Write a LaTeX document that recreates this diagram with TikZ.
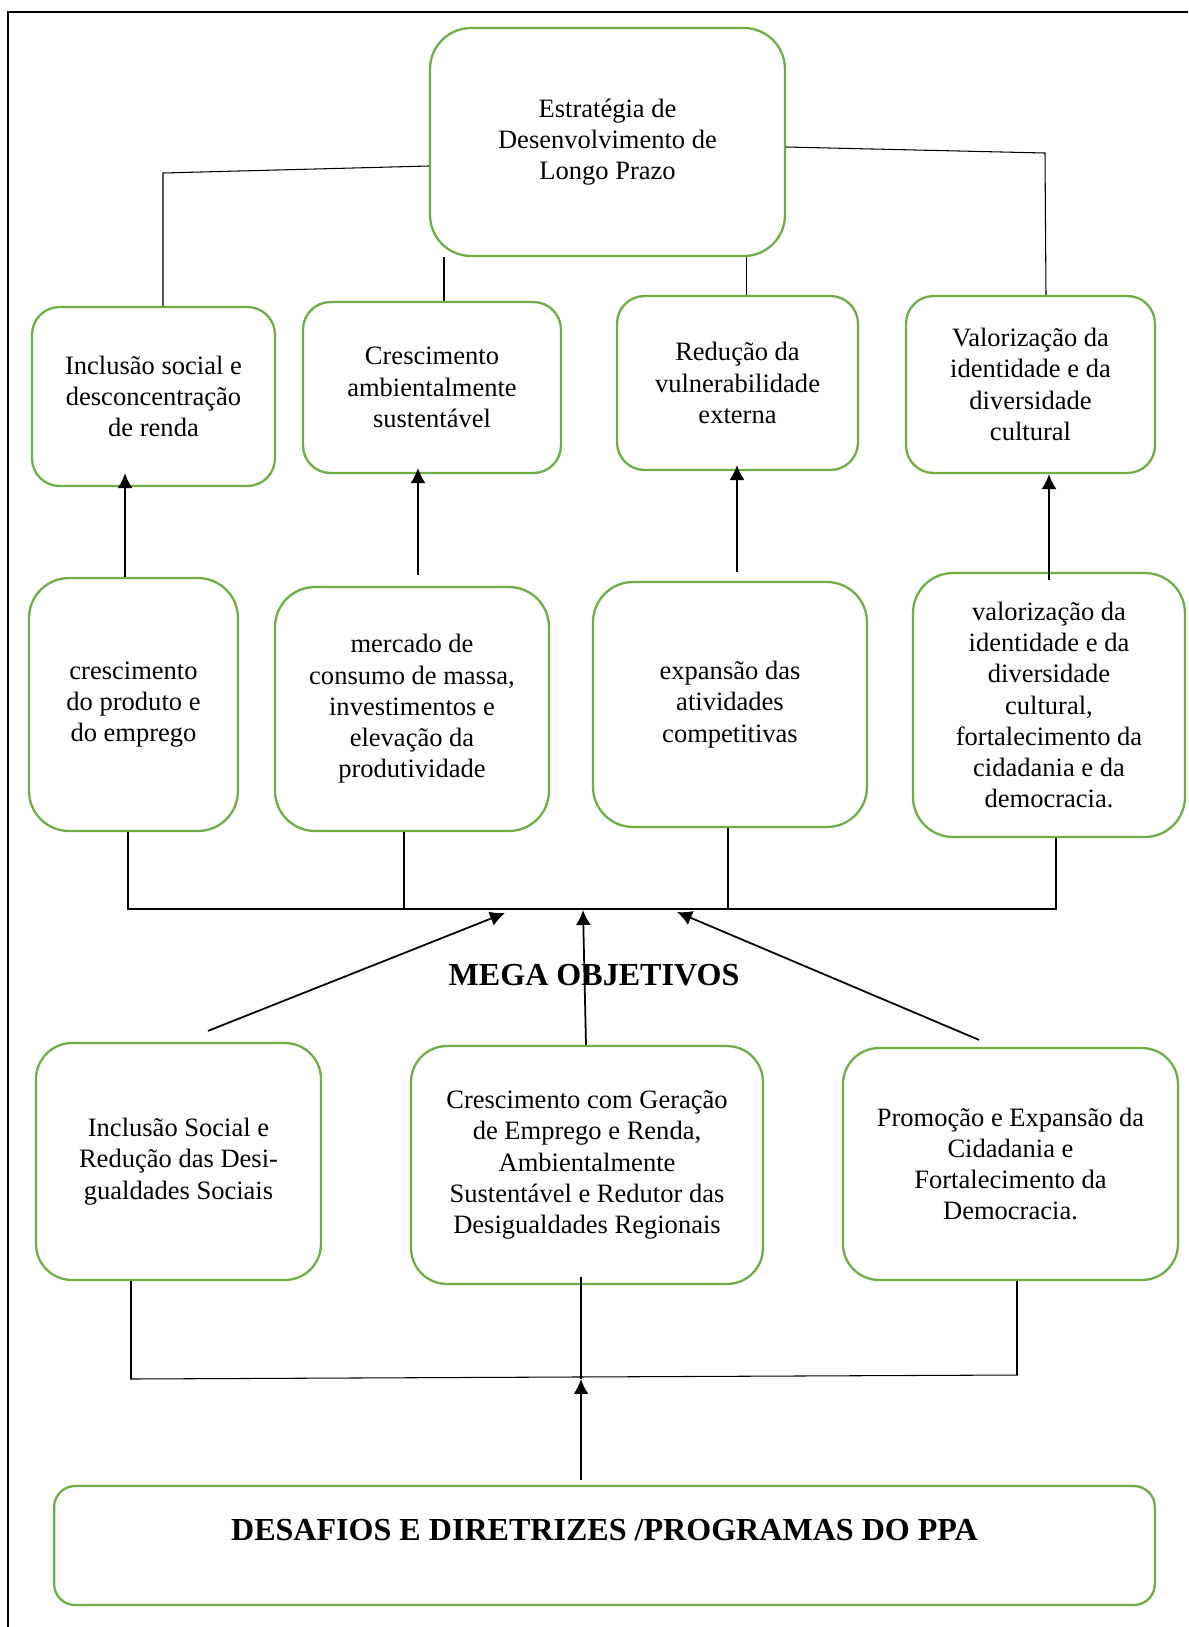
\documentclass[tikz,border=0pt]{standalone}
\usepackage{fontspec}
\setmainfont{Liberation Serif}
\usetikzlibrary{arrows.meta}

\definecolor{verde}{RGB}{112,173,71}

\begin{document}
\begin{tikzpicture}[x = 0.02cm, y = -0.02cm, > = {Latex[length = 8.5pt, width = 8.5pt]},
	caixa/.style = {draw = verde, line width = 1.3pt, align = center, inner sep = 0pt,
		font = \fontsize{15.1}{17.8}\selectfont},
	linha/.style = {line width = 0.6pt},
	seta/.style = {->, line width = 1pt},
	titulo/.style = {font = \fontsize{18.25}{22}\selectfont\bfseries}]

	\useasboundingbox (0, 0) rectangle (1188, 1627);
	\draw [line width = 0.9pt] (8, 1627) -- (8, 12) -- (1188, 12);

	% topo
	\node [caixa, rounded corners = 0.82cm, minimum width = 7.1cm, minimum height = 4.56cm]
		(T) at (607.5, 142) {Estratégia de\\Desenvolvimento de\\Longo Prazo};

	\begin{scope}[rounded corners = 0.55cm]

		\node [caixa, minimum width = 4.86cm, minimum height = 3.58cm] (B1) at (153.5, 396.5)
			{Inclusão social e\\desconcentração\\de renda};
		\node [caixa, minimum width = 5.16cm, minimum height = 3.42cm] (B2) at (432, 387.5)
			{Crescimento\\ambientalmente\\sustentável};
		\node [caixa, minimum width = 4.82cm, minimum height = 3.48cm] (B3) at (737.5, 383)
			{Redução da\\vulnerabilidade\\externa};
		\node [caixa, minimum width = 4.98cm, minimum height = 3.54cm] (B4) at (1030.5, 384.5)
			{Valorização da\\identidade e da\\diversidade\\cultural};

	\end{scope}

	\begin{scope}[rounded corners = 0.8cm]

		\node [caixa, minimum width = 4.18cm, minimum height = 5.06cm] (C1) at (133.5, 704.5)
			{crescimento\\do produto e\\do emprego};
		\node [caixa, minimum width = 5.48cm, minimum height = 4.88cm] (C2) at (412, 709)
			{mercado de\\consumo de massa,\\investimentos e\\elevação da\\produtividade};
		\node [caixa, minimum width = 5.48cm, minimum height = 4.9cm] (C3) at (730, 704.5)
			{expansão das\\atividades\\competitivas};
		\node [caixa, minimum width = 5.44cm, minimum height = 5.28cm] (C4) at (1049, 705)
			{valorização da\\identidade e da\\diversidade\\cultural,\\fortalecimento da\\cidadania e da\\democracia.};

	\end{scope}

	\begin{scope}[rounded corners = 0.72cm]

		\node [caixa, minimum width = 5.7cm, minimum height = 4.74cm] (D1) at (178.5, 1161.5)
			{Inclusão Social e\\Redução das Desi-\\gualdades Sociais};
		\node [caixa, minimum width = 7.04cm, minimum height = 4.76cm] (D2) at (587, 1165)
			{Crescimento com Geração\\de Emprego e Renda,\\Ambientalmente\\Sustentável e Redutor das\\Desigualdades Regionais};
		\node [caixa, minimum width = 6.7cm, minimum height = 4.64cm] (D3) at (1010.5, 1164)
			{Promoção e Expansão da\\Cidadania e\\Fortalecimento da\\Democracia.};

	\end{scope}

	\node [caixa, rounded corners = 0.42cm, minimum width = 22.02cm, minimum height = 2.38cm]
		(E) at (604.5, 1545.5) {};
	\node [titulo] (Etxt) at (604.5, 1530.5) {DESAFIOS E DIRETRIZES /PROGRAMAS DO PPA};

	\node [titulo] (mega) at (594, 975) {MEGA OBJETIVOS};

	% ligacoes do topo
	\begin{scope}[linha]

		\draw ([yshift = -0.48cm]T.west) -- (163, 173) -- ([xshift = 0.19cm]B1.north);
		\draw ([xshift = 0.24cm]B2.north) -- ([xshift = 0.24cm]B2.north |- T.south);
		\draw ([xshift = 0.18cm]B3.north) -- ([xshift = 0.18cm]B3.north |- T.south);
		\draw ([yshift = -0.1cm]T.east) -- (1045, 153) -- ([xshift = 0.31cm]B4.north);

	\end{scope}

	% setas para os eixos
	\begin{scope}[seta]

		\draw ([xshift = -0.17cm]C1.north) -- ([xshift = -0.17cm, yshift = 0.28cm]C1.north |- B1.south);
		\draw ([xshift = 0.12cm, yshift = 0.22cm]C2.north) -- ([xshift = 0.12cm, yshift = 0.12cm]C2.north |- B2.south);
		\draw ([xshift = 0.14cm, yshift = 0.18cm]C3.north) -- ([xshift = 0.14cm, yshift = 0.12cm]C3.north |- B3.south);
		\draw ([yshift = -0.16cm]C4.north) -- (C4.north |- B4.south);

	\end{scope}

	% barra dos objetivos
	\coordinate (h1l) at (127, 909);
	\coordinate (h1r) at (1057, 909);

	\begin{scope}[linha]

		\draw (h1l) -- (h1r);
		\draw ([xshift = -0.11cm]C1.south) -- ([xshift = -0.11cm]C1.south |- h1l);
		\draw ([xshift = -0.16cm]C2.south) -- ([xshift = -0.16cm]C2.south |- h1l);
		\draw ([xshift = -0.04cm]C3.south) -- ([xshift = -0.04cm]C3.south |- h1l);
		\draw ([xshift = 0.14cm]C4.south) -- ([xshift = 0.14cm]C4.south |- h1l);

	\end{scope}

	\coordinate (m1) at (505, 913);
	\coordinate (m2) at (583, 910);
	\coordinate (m3) at (677, 912);

	\begin{scope}[seta]

		\draw ([xshift = 0.59cm, yshift = 0.22cm]D1.north) -- (m1);
		\draw ([xshift = -0.02cm]D2.north) -- (m2);
		\draw ([xshift = -0.63cm, yshift = 0.14cm]D3.north) -- (m3);

	\end{scope}

	% barra dos mega objetivos
	\coordinate (h2l) at (130, 1379);
	\coordinate (h2r) at (1018, 1375);

	\begin{scope}[linha]

		\draw (h2l) -- (h2r);
		\draw ([xshift = -0.95cm]D1.south) -- ([xshift = -0.95cm]D1.south |- h2l);
		\draw ([xshift = -0.12cm, yshift = 0.16cm]D2.south) -- ([xshift = -0.12cm]D2.south |- h2l);
		\draw ([xshift = 0.13cm]D3.south) -- ([xshift = 0.13cm]D3.south |- h2r);

	\end{scope}

	\draw [seta] ([xshift = -0.47cm, yshift = 0.1cm]E.north) -- ([xshift = -0.47cm]E.north |- h2l);

\end{tikzpicture}
\end{document}
